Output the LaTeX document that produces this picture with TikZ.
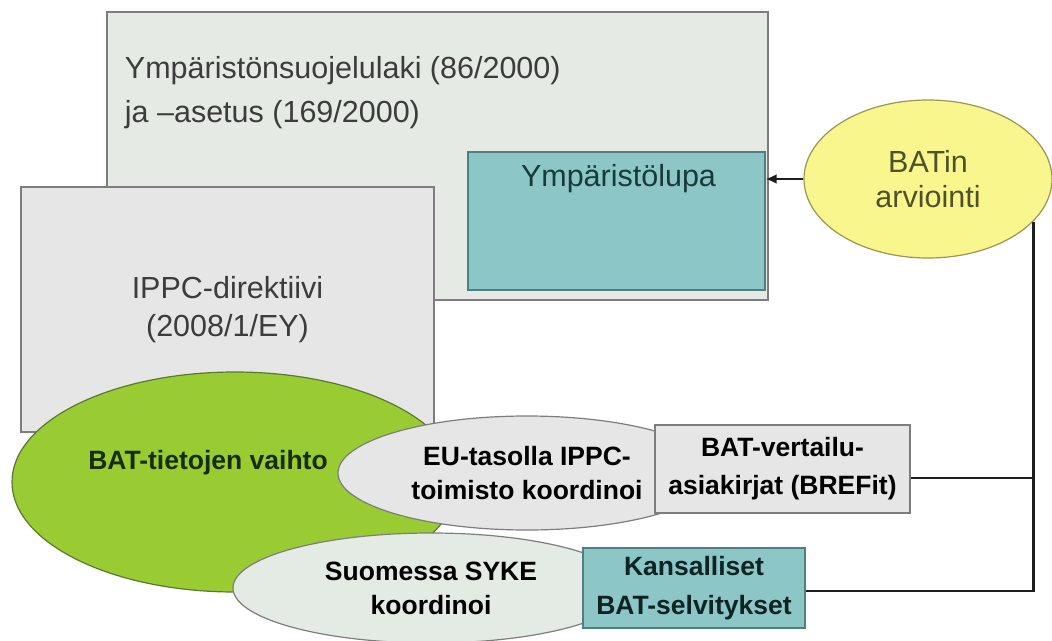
\documentclass[tikz,border=0pt]{standalone}
\usepackage{fontspec}
\setmainfont{Liberation Sans}
\usetikzlibrary{arrows.meta, positioning, shapes.geometric}
\definecolor{lawfill}{RGB}{229,234,228}
\definecolor{boxgray}{RGB}{230,230,230}
\definecolor{boxedge}{RGB}{125,125,125}
\definecolor{tealfill}{RGB}{140,198,199}
\definecolor{tealedge}{RGB}{78,128,130}
\definecolor{tealtext}{RGB}{25,58,60}
\definecolor{batyellow}{RGB}{248,246,140}
\definecolor{yellowedge}{RGB}{150,150,85}
\definecolor{batgreen}{RGB}{153,204,51}
\definecolor{greenedge}{RGB}{90,120,50}
\definecolor{greentext}{RGB}{22,45,10}
\definecolor{paleoval}{RGB}{228,234,228}
\definecolor{darktext}{RGB}{60,60,60}
\definecolor{linedark}{RGB}{30,30,30}

\begin{document}
\begin{tikzpicture}[x=1pt, y=-1pt,
    box/.style={rectangle, draw=boxedge, line width=1.2pt, inner sep=0pt},
    oval/.style={ellipse, draw=boxedge, line width=1.2pt, inner sep=0pt},
    regtext/.style={font=\fontsize{30.5}{37}\selectfont},
    boldtext/.style={font=\fontsize{26.5}{34}\selectfont\bfseries},
    conn/.style={draw=linedark, line width=2.8pt}]
    \useasboundingbox (0,0) rectangle (1052,640);

    % Law and permit
    \node[box, fill=lawfill, minimum width=661pt, minimum height=288pt,
      label={[anchor=north west, xshift=15pt, yshift=-41pt, align=left, text=darktext,
        font=\fontsize{30.5}{44}\selectfont]north west:Ympäristönsuojelulaki (86/2000)\\ja –asetus (169/2000)}] (law) at (437.5,156) {};
    \node[box, draw=tealedge, fill=tealfill, minimum width=297pt, minimum height=138pt,
      label={[anchor=base, xshift=2pt, yshift=-35pt, text=tealtext, regtext]north:Ympäristölupa}] (lupa) at (616.5,221) {};

    % Directive
    \node[box, fill=boxgray, minimum width=413pt, minimum height=245pt, align=center,
      text=darktext, font=\fontsize{30.5}{38}\selectfont] (ippc) at (227.5,309.5) {IPPC-direktiivi\\(2008/1/EY)};

    % Information exchange
    \node[oval, draw=greenedge, fill=batgreen, minimum width=446pt, minimum height=220pt,
      label={[xshift=-27pt, yshift=19pt, text=greentext, boldtext]center:BAT-tietojen vaihto}] (vaihto) at (235,482) {};
    \node[oval, fill=boxgray, minimum width=378pt, minimum height=114pt, align=center,
      boldtext] (eu) at (527,473) {EU-tasolla IPPC-\\toimisto koordinoi};
    \node[box, fill=boxgray, minimum width=255pt, minimum height=88pt, align=center,
      font=\fontsize{26.5}{38}\selectfont\bfseries] (bref) at (782.5,469) {BAT-vertailu-\\asiakirjat (BREFit)};
    \node[oval, fill=paleoval, minimum width=396pt, minimum height=110pt, align=center,
      boldtext] (syke) at (431,588) {Suomessa SYKE\\koordinoi};
    \node[box, draw=tealedge, fill=tealfill, minimum width=222pt, minimum height=80pt,
      align=center, text=tealtext!60!black, font=\fontsize{26.5}{39}\selectfont\bfseries] (kans) at (694,588) {Kansalliset\\BAT-selvitykset};

    % Assessment
    \node[oval, draw=yellowedge, fill=batyellow, minimum width=248pt, minimum height=158pt,
      align=center, text=darktext!70!olive, font=\fontsize{30.5}{35}\selectfont] (arvio) at (928,179) {BATin\\arviointi};

    % Connectors
    \draw[conn, -{Latex[length=11pt,width=10pt]}] (arvio.west) -- (arvio.west -| lupa.east);
    \draw[conn] ([yshift=-9pt]bref.east) -- ([yshift=-9pt]bref.east -| arvio.-22);
    \draw[conn] ([yshift=-3pt]kans.east) -| (arvio.-22);
\end{tikzpicture}
\end{document}
